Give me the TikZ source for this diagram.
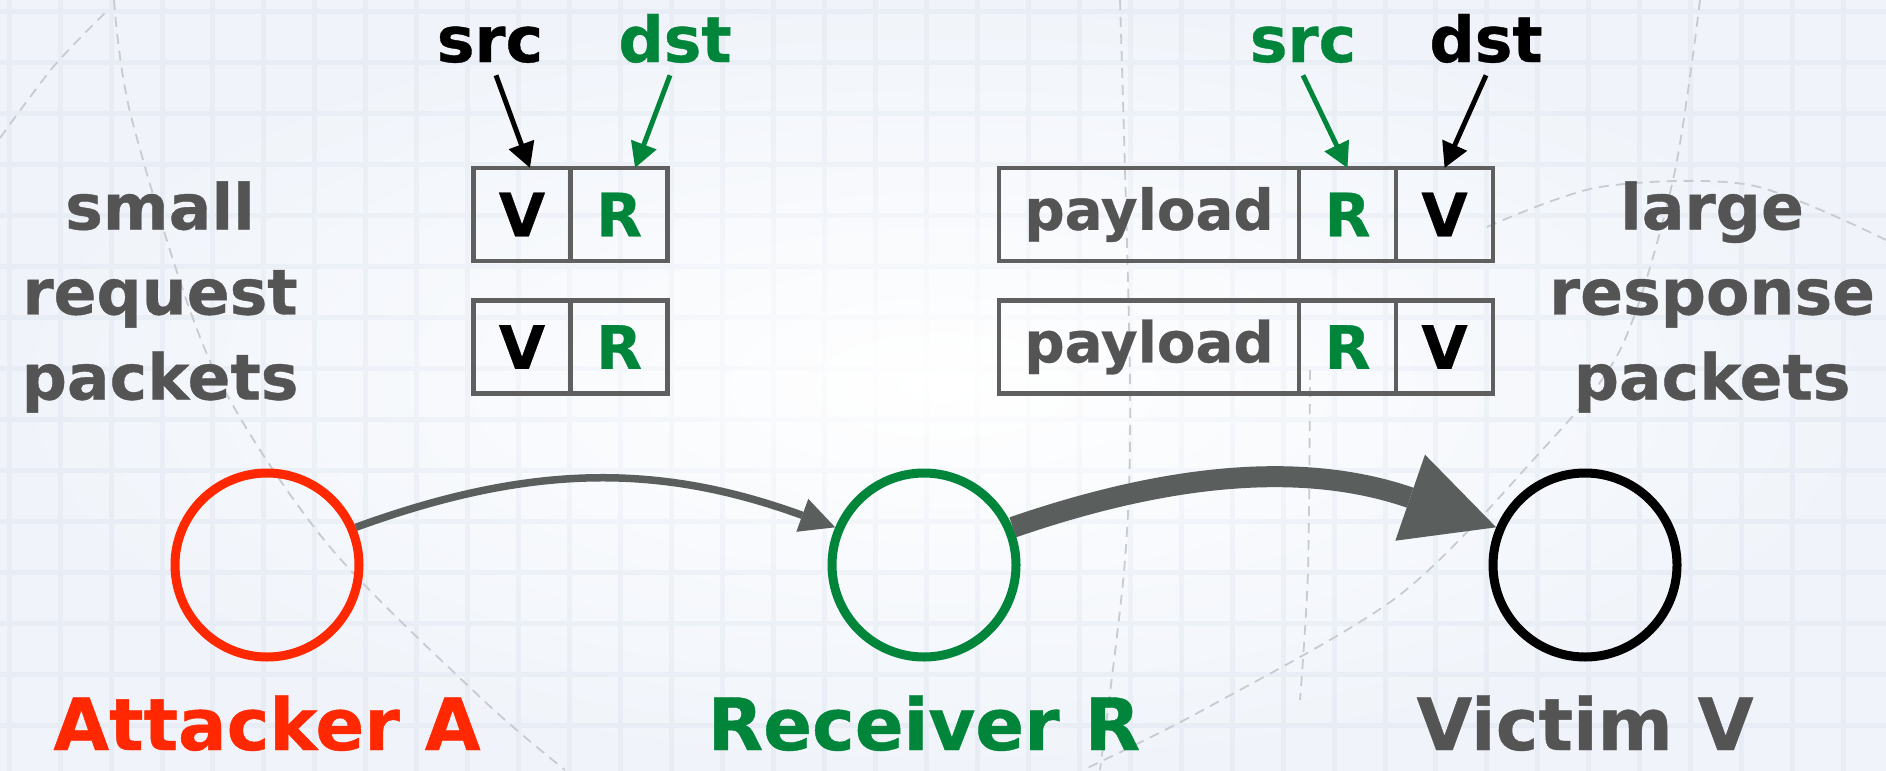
\documentclass[tikz,border=0pt]{standalone}
\usepackage{fontspec}
\setmainfont{DejaVu Sans}[BoldFeatures={FakeBold=0.6}]
\usetikzlibrary{arrows.meta, positioning, fadings}
\definecolor{attack}{RGB}{255, 40, 0}
\definecolor{recv}{RGB}{0, 133, 58}
\definecolor{ink}{RGB}{84, 84, 84}
\definecolor{flow}{RGB}{90, 94, 92}
\definecolor{framegray}{RGB}{95, 95, 95}
\definecolor{paper}{RGB}{240, 244, 250}
\definecolor{gridblue}{RGB}{232, 237, 245}
\definecolor{arcgray}{RGB}{200, 204, 208}
\tikzfading[name=fade centre, inner color=transparent!100, outer color=transparent!0]

\begin{document}
\begin{tikzpicture}[
    big/.style={font=\bfseries\fontsize{18}{24.2}\selectfont, text=ink, align=center},
    hostlabel/.style={font=\bfseries\fontsize{20.5}{24}\selectfont, text=ink, anchor=base, inner sep=0pt},
    head/.style={font=\bfseries\fontsize{18}{20}\selectfont, anchor=base},
    host/.style={circle, draw, line width=0.09cm, minimum size=1.84cm, inner sep=0pt},
    cell/.style={rectangle, draw=framegray, line width=0.045cm, minimum height=0.93cm, minimum width=0.97cm, inner sep=0pt, outer sep=0pt, font=\bfseries\fontsize{17}{17}\selectfont},
    ptr/.style={-{Triangle[length=2.5mm, width=2.6mm]}, line width=1.4pt},
    request/.style={draw=flow, line width=0.075cm, -{Triangle[length=3.5mm, width=3.5mm, line width=0pt]}},
    response/.style={draw=flow, line width=0.21cm, -{Triangle[length=9.1mm, width=9.1mm, line width=0pt]}},
    bgarc/.style={arcgray, line width=0.018cm, dash pattern=on 0.1cm off 0.07cm}
  ]
    \useasboundingbox (0,0) rectangle (18.86,7.70);

    % graph paper backdrop
    \shade[inner color=white, outer color=paper] (0,0) rectangle (18.86,7.70);
    \begin{scope}
      \clip (0,0) rectangle (18.86,7.70);
      \draw[gridblue, line width=0.05cm, path fading=fade centre, shift={(0.10,0.44)}] (-0.51,-0.51) grid[step=0.51] (18.9,7.7);
      \draw[bgarc] plot[smooth] coordinates {(1.14,7.70) (1.32,6.50) (2.10,4.09) (3.25,2.29) (4.81,0.72) (5.65,0)};
      \draw[bgarc] plot[smooth] coordinates {(0,6.32) (0.54,7.04) (1.08,7.60)};
      \draw[bgarc] plot[smooth] coordinates {(11.20,7.70) (11.30,3.90) (11.25,2.10) (11.00,0)};
      \draw[bgarc] plot[smooth] coordinates {(13.10,4.00) (13.08,2.00) (13.00,0.70)};
      \draw[bgarc] plot[smooth] coordinates {(17.00,7.70) (16.73,5.90) (16.20,4.20) (15.33,3.10) (13.97,1.73) (12.03,0.60) (10.83,0)};
      \draw[bgarc] plot[smooth] coordinates {(14.87,5.43) (16.00,5.83) (17.50,5.85) (18.86,5.30)};
    \end{scope}

    % hosts
    \node[host, draw=attack] (a) at (2.67,2.05) {};
    \node[host, draw=recv] (r) at (9.24,2.05) {};
    \node[host, draw=black] (v) at (15.85,2.05) {};

    \node[hostlabel, text=attack] (alab) at ([yshift=-1.85cm]a.center) {Attacker A};
    \node[hostlabel, text=recv] (rlab) at ([yshift=-1.85cm]r.center) {Receiver R};
    \node[hostlabel] (vlab) at ([yshift=-1.85cm]v.center) {Victim V};

    \draw[request] (a.23) to[bend left=20] (r.157);
    \draw[response] (r.23) to[bend left=19] (v.157);

    % request packets
    \node[cell] (v1) at (5.22,5.555) {V};
    \node[cell, text=recv, right=0pt of v1] (r1) {R};
    \node[cell] (v2) at (5.22,4.23) {V};
    \node[cell, text=recv, right=0pt of v2] (r2) {R};

    % response packets
    \node[cell, text=ink, minimum width=3.0cm, font=\bfseries\fontsize{16}{16}\selectfont] (p3) at (11.49,5.555) {payload};
    \node[cell, text=recv, right=0pt of p3] (r3) {R};
    \node[cell, right=0pt of r3] (v3) {V};
    \node[cell, text=ink, minimum width=3.0cm, font=\bfseries\fontsize{16}{16}\selectfont] (p4) at (11.49,4.23) {payload};
    \node[cell, text=recv, right=0pt of p4] (r4) {R};
    \node[cell, right=0pt of r4] (v4) {V};

    % address fields
    \node[head] (srcl) at (4.90,7.08) {src};
    \node[head, text=recv] (dstl) at (6.75,7.08) {dst};
    \node[head, text=recv] (srcr) at (13.03,7.08) {src};
    \node[head] (dstr) at (14.86,7.08) {dst};

    \draw[ptr] ([xshift=0.6mm]srcl.south) -- ([xshift=0.8mm]v1.north);
    \draw[ptr, recv] ([xshift=-0.5mm]dstl.south) -- ([xshift=1.6mm]r1.north);
    \draw[ptr, recv] (srcr.south) -- (r3.north);
    \draw[ptr] (dstr.south) -- (v3.north);

    \node[big] (small) at (1.60,4.73) {small\\request\\packets};
    \node[big] (large) at (17.12,4.73) {large\\response\\packets};
\end{tikzpicture}
\end{document}
